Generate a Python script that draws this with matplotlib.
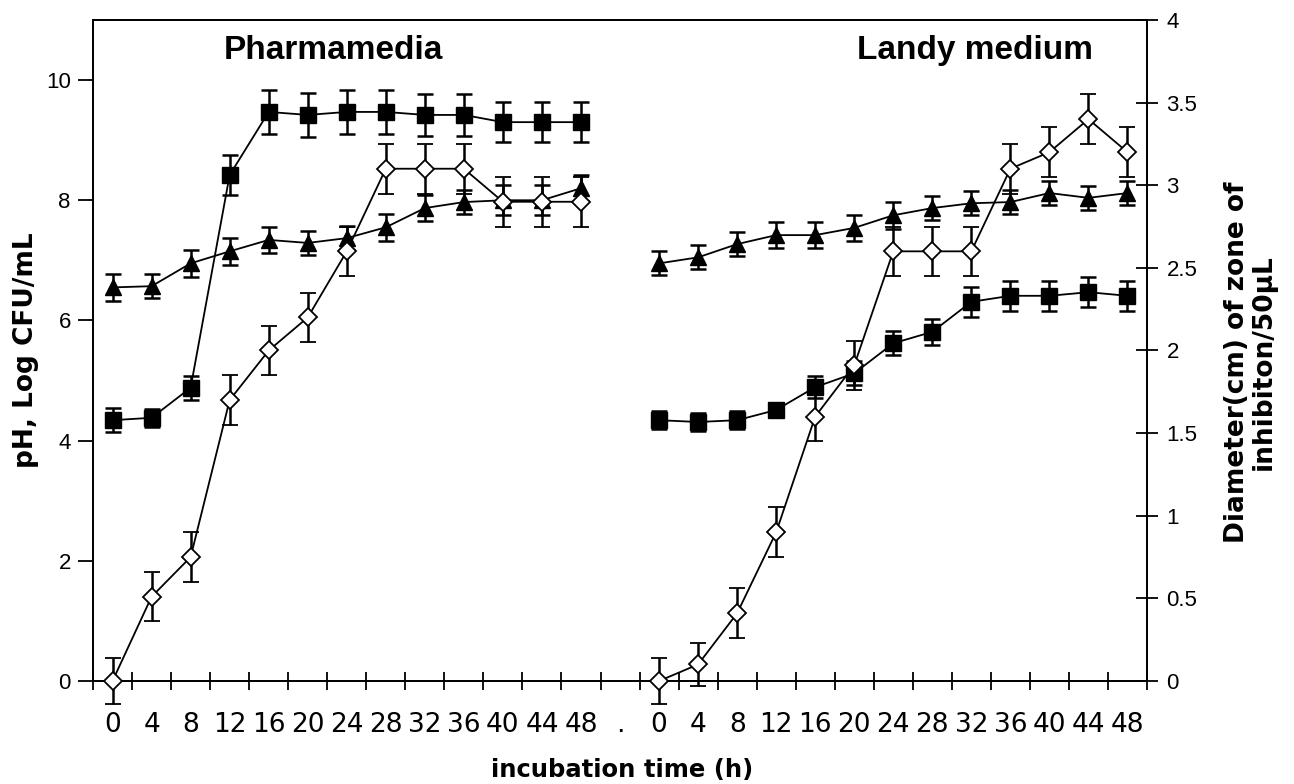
import matplotlib
matplotlib.use("Agg")
import matplotlib.pyplot as plt
from matplotlib.ticker import FixedLocator, FuncFormatter

# incubation time (h), same for both media
hours = [0, 4, 8, 12, 16, 20, 24, 28, 32, 36, 40, 44, 48]

# Pharmamedia
ph_pharma = [6.55, 6.57, 6.95, 7.15, 7.34, 7.29, 7.37, 7.55, 7.87, 7.97, 8.0, 8.0, 8.2]
ph_pharma_err = [0.22, 0.2, 0.22, 0.22, 0.22, 0.2, 0.2, 0.22, 0.22, 0.2, 0.25, 0.25, 0.22]
cfu_pharma = [4.34, 4.38, 4.88, 8.42, 9.47, 9.42, 9.47, 9.47, 9.42, 9.42, 9.3, 9.3, 9.3]
cfu_pharma_err = [0.2, 0.15, 0.2, 0.33, 0.37, 0.37, 0.37, 0.37, 0.35, 0.35, 0.33, 0.33, 0.33]
zone_pharma = [0.0, 0.51, 0.75, 1.70, 2.0, 2.2, 2.6, 3.1, 3.1, 3.1, 2.9, 2.9, 2.9]
zone_pharma_err = [0.14, 0.15, 0.15, 0.15, 0.15, 0.15, 0.15, 0.15, 0.15, 0.15, 0.15, 0.15, 0.15]

# Landy medium
ph_landy = [6.95, 7.05, 7.27, 7.42, 7.42, 7.54, 7.75, 7.87, 7.95, 7.97, 8.12, 8.04, 8.12]
ph_landy_err = [0.2, 0.2, 0.2, 0.22, 0.22, 0.22, 0.22, 0.2, 0.2, 0.2, 0.2, 0.2, 0.2]
cfu_landy = [4.34, 4.31, 4.34, 4.51, 4.89, 5.12, 5.62, 5.81, 6.31, 6.41, 6.41, 6.47, 6.41]
cfu_landy_err = [0.15, 0.15, 0.15, 0.12, 0.18, 0.2, 0.2, 0.22, 0.25, 0.25, 0.25, 0.25, 0.25]
zone_landy = [0.0, 0.1, 0.41, 0.90, 1.60, 1.91, 2.6, 2.6, 2.6, 3.1, 3.2, 3.4, 3.2]
zone_landy_err = [0.14, 0.13, 0.15, 0.15, 0.15, 0.15, 0.15, 0.15, 0.15, 0.15, 0.15, 0.15, 0.15]

tick_labels = [str(h) for h in hours] + ["."] + [str(h) for h in hours]

plt.rcParams["font.family"] = ["Liberation Sans", "DejaVu Sans"]
label_font = ["DejaVu Sans"]

fig = plt.figure(figsize=(12.94, 7.84), dpi=100)
ax = fig.add_axes([0.0719, 0.1314, 0.8145, 0.8431])
ax2 = ax.twinx()

n = len(hours)
x_pharma = list(range(n))
x_landy = [n + 1 + i for i in range(n)]

err_kw = dict(color="black", lw=1.3, ecolor="black", elinewidth=1.8, capsize=5.5, capthick=1.8)

for xs, ph, phe, cfu, cfue in [(x_pharma, ph_pharma, ph_pharma_err, cfu_pharma, cfu_pharma_err),
                               (x_landy, ph_landy, ph_landy_err, cfu_landy, cfu_landy_err)]:
    ax.errorbar(xs, cfu, yerr=cfue, marker="s", ms=11, mfc="black", mec="black", zorder=3, **err_kw)
    ax.errorbar(xs, ph, yerr=phe, marker="^", ms=11, mfc="black", mec="black", zorder=3, **err_kw)

for xs, zn, zne in [(x_pharma, zone_pharma, zone_pharma_err), (x_landy, zone_landy, zone_landy_err)]:
    ax2.errorbar(xs, zn, yerr=zne, marker="D", ms=9.5, mfc="white", mec="black", mew=1.3,
                 zorder=3, clip_on=False, **err_kw)

ax.set_xlim(-0.5, 2 * n + 0.5)
ax.set_ylim(0, 11)
ax2.set_ylim(0, 4)

ax.set_yticks([0, 2, 4, 6, 8, 10])
ax2.set_yticks([0, 0.5, 1, 1.5, 2, 2.5, 3, 3.5, 4])
ax2.yaxis.set_major_formatter(FuncFormatter(lambda v, p: "%g" % v))

ax.set_xticks(range(2 * n + 1))
ax.set_xticklabels(tick_labels, family=label_font, fontsize=19)
ax.xaxis.set_minor_locator(FixedLocator([i - 0.5 for i in range(2 * n + 2)]))
ax.tick_params(axis="x", which="major", length=0, pad=22)
ax.tick_params(axis="x", which="minor", direction="inout", length=13, width=1.3)
ax.tick_params(axis="y", direction="out", length=11, width=1.3, labelsize=16, pad=5)
ax2.tick_params(axis="y", direction="inout", length=16, width=1.3, labelsize=16, pad=6)

for a in (ax, ax2):
    for s in a.spines.values():
        s.set_linewidth(1.3)

fig.text(26 / 1294, 1 - 350 / 784, "pH, Log CFU/mL", family=label_font, fontweight="bold",
         fontsize=19, rotation=90, ha="center", va="center")
fig.text(1250 / 1294, 1 - 362 / 784, "Diameter(cm) of zone of\ninhibiton/50\u00b5L",
         family=label_font, fontweight="bold", fontsize=19, rotation=90,
         ha="center", va="center", multialignment="center", linespacing=1.05)
fig.text(622 / 1294, 1 - 770 / 784, "incubation time (h)", family=label_font, fontweight="bold",
         fontsize=17.5, ha="center", va="center")

ax.text(5.65, 10.5, "Pharmamedia", ha="center", va="center", fontsize=24, fontweight="bold")
ax.text(22.1, 10.5, "Landy medium", ha="center", va="center", fontsize=24, fontweight="bold")

fig.savefig("out.png", dpi=100)
